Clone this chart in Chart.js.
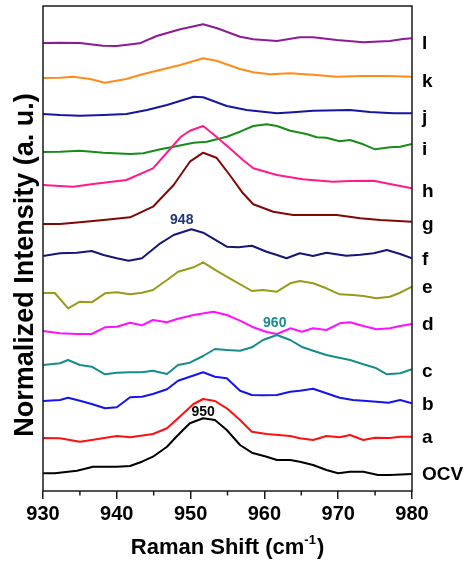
<!DOCTYPE html>
<html>
<head>
<meta charset="utf-8">
<script src="https://cdn.jsdelivr.net/npm/chart.js@4/dist/chart.umd.min.js"></script>
<style>
html,body{margin:0;padding:0;background:#fff;}
#wrap{width:474px;height:562px;position:relative;}
</style>
</head>
<body>
<div id="wrap"><canvas id="c" width="474" height="562"></canvas></div>
<script>
// ---- Data (Raman shift in cm-1, stacked normalized intensity in a.u.) ----
const seriesNames = ['OCV','a','b','c','d','e','f','g','h','i','j','k','l'];
const seriesColors = ['#000000','#ff1010','#1414f0','#168c8c','#ff10ff','#99991a','#161678','#820808','#ff1a8c','#188c18','#1616a0','#ff8c1a','#8e1b96'];
const labelLevels = [12,49,82,115,162,199,227,262,295,337,369,405,443];

const ocvX=[930,931.6,934.6,936.8,940,941.8,943.4,944.9,946.8,948.3,949.9,951.7,953.3,954.9,956.7,958.3,960.3,961.7,963.5,964.8,966.6,968.4,970,971.6,973.4,975.4,977,980];
const ocvY=[18.7,18.7,21.3,25.3,25.3,26,30.3,35.3,45.3,57,68.7,73.7,72,62,47,39.3,35.3,32,32,30.3,27,22,18.7,20.3,20.3,17,17,18];
const aX=[930,932.3,935,936.6,940,941.8,944.9,946.8,948.3,950.4,951.7,953.3,954.9,956.7,958.3,960.3,963.5,964.8,966.6,968.4,970.2,971.6,973.4,975,977,978.4,980];
const aY=[54,53.7,50.3,52,56,54.7,58,63.7,73.7,88,93,91,83.7,72,60.3,58,56,53.7,52,56,54.7,57,52,54.3,54,55.3,55.3];
const bX=[930,932.3,933.4,935,936.6,938.4,940,941.8,943.4,944.9,946.8,948.3,949.9,951.7,953.3,954.9,956.7,958.3,959.8,961.7,963.5,964.8,966.6,968.4,970.2,972,973.4,975.2,976.8,978.4,980];
const bY=[91,92,94.3,91.3,88,83.7,84.7,94.7,95.3,98,102.7,111.3,115.3,119.7,115.3,113.7,101.3,97,96.7,97,100.3,101.3,103.3,98.7,94.3,92,91.3,90.3,89.3,92,88.7];
const cX=[930,932.3,933.4,935,936.6,938.4,940,941.8,943.4,944.9,946.8,948.3,949.9,951.7,953.3,954.9,956.7,958.3,959.8,961.7,963.5,965.2,966.6,968.4,969.8,971.6,973.4,975,976.6,978.4,980];
const cY=[127,128.7,132,127,125.3,117.7,119.3,119.7,119.7,121.3,118,127,129.3,136,143,142,141.3,144.7,152,157,152,144.7,141.3,137,134.7,132,127.7,124.3,117.7,118.7,122.7];
const dX=[930,932.3,934.6,936.6,938.4,940,941.8,943.4,944.9,946.8,948.3,950.4,953.1,954.9,956.7,958.3,960.3,961.7,963.5,965.1,966.6,968.4,970.2,971.6,973.4,975.2,977,978.4,980];
const dY=[161,158.7,158,158,164.7,165.3,169.3,166.7,172,169.7,173.3,177,180.3,177,171.3,165.3,160,158,163.7,160.3,163.7,162,168.7,169.7,166,162.7,163.7,166,168];
const eX=[930,931.6,933.4,935,936.6,938.4,940,941.8,943.4,944.9,946.8,948.3,950.4,951.7,953.5,955.3,958.3,959.8,961.7,963.5,964.8,966.6,968.4,970.2,972,973.4,975.2,977,978.4,980];
const eY=[199,199,183.7,190.3,189.7,198.7,199.7,197.7,199.3,202,212,220.3,224.7,229.7,221.3,213.7,201,202,200.3,208.7,211,208.7,203.7,197.7,197,196,193.7,195.3,199.3,205.3];
const fX=[930,932.3,934.6,936.6,938.2,940,941.6,943.4,945.9,947.7,950.1,951.7,954.9,956.5,958.3,960.3,961.7,963,964.8,966.6,968.4,971.1,973,974.8,976.6,978.4,980];
const fY=[236,238.7,239.3,241,237,233.7,231.3,233.7,248.7,257,262.7,259.3,245.3,244.7,246.3,240.3,237,233.7,238.7,236,239.3,236.3,237.3,238.7,242,238,233.7];
const gX=[930,932.3,935,938.2,941.8,944.9,947.7,949.9,951.7,953.5,955.3,957.1,958.5,961.2,963.9,966.6,969.8,973,975.7,980];
const gY=[268,268,269.7,272,274.7,285.3,307,330.3,339.3,334.3,317,298.7,287.7,280.3,277,277,277,273.7,272,270.3];
const hX=[930,932.3,934.1,936.8,941.3,944.9,947.7,948.6,949.9,951.7,953.5,955.3,957.1,958.5,961.7,965.2,969.3,971.6,974.8,977,980];
const hY=[307,306,305.3,308,312,323.7,347,354.7,361.3,366,355.3,343.7,332,323.7,317,312.7,310.3,311,311.3,308,303.7];
const iX=[930,932.3,935,938.2,941.8,943.6,945.9,947.7,950.4,952.2,954.9,956.7,958.5,960.3,961.7,963.5,965.7,967.1,968.4,970.2,971.6,973.4,975,977,978.4,980];
const iY=[340,340.3,341.3,339.3,338,338.7,342.7,345.3,349.3,350.3,355.3,360.3,366,367.7,366,361.3,358,354.7,354.3,350.7,352,347.7,342.7,344.7,345.3,348];
const jX=[930,932.3,935,938.2,941.3,944.1,946.8,950.4,951.7,954.9,957.6,961.7,963.9,966.6,971.6,974.3,977.5,980];
const jY=[378,377,376.3,377,378,382,387,395.3,394.7,386,382,378.7,379.7,381.3,382,380,378.7,378.7];
const kX=[930,932.3,934.1,936.4,938.4,941.3,943.1,945.4,948.6,951.7,953.5,956.7,958.5,960.8,963.5,966.6,969.8,973,976.6,980];
const kY=[414,414.3,415.3,413,409.3,413,417,421.3,427,433.7,431.3,423,419.7,417.7,418.7,417.3,415.3,416,416,415.3];
const lX=[930,932.3,935,938.1,940,943.1,945.4,948.6,951.7,953.6,956.7,958.5,961.7,964.8,966.6,969.8,973.4,977,978.8,980];
const lY=[449,449.3,449,446.3,446,448.7,456,462.7,467.7,463.7,455.3,452.7,451,454.7,454.7,452,449.7,451,453,453.7];

const xTicks=[930,940,950,960,970,980];
const xMinorTicks=[935,945,955,965,975];
const peakNotes=[{text:'948',x:948.8,y:271.5,color:'#1f3574'},{text:'960',x:961.4,y:169,color:'#1a8c8c'},{text:'950',x:951.7,y:79.5,color:'#000000'}];

const allX=[ocvX,aX,bX,cX,dX,eX,fX,gX,hX,iX,jX,kX,lX];
const allY=[ocvY,aY,bY,cY,dY,eY,fY,gY,hY,iY,jY,kY,lY];

const datasets = seriesNames.map((n,i)=>({
  label:n,
  data:allX[i].map((x,k)=>({x:x,y:allY[i][k]})),
  borderColor:seriesColors[i],
  backgroundColor:seriesColors[i],
  borderWidth:2,
  borderJoinStyle:'round',
  pointRadius:0,
  tension:0,
  fill:false
}));

const FONT='"Liberation Sans", Arial, Helvetica, sans-serif';

const decor = {
  id:'decor',
  afterDraw(chart){
    const ctx=chart.ctx, a=chart.chartArea, xs=chart.scales.x, ys=chart.scales.y;
    ctx.save();
    // frame
    ctx.strokeStyle='#1a1a1a'; ctx.lineWidth=1.5;
    ctx.strokeRect(a.left,a.top,a.right-a.left,a.bottom-a.top);
    // minor ticks
    ctx.lineWidth=1.5;
    xMinorTicks.forEach(v=>{
      const px=xs.getPixelForValue(v);
      ctx.beginPath(); ctx.moveTo(px,a.bottom); ctx.lineTo(px,a.bottom+4.5); ctx.stroke();
    });
    // series labels on the right
    ctx.fillStyle='#000'; ctx.font='bold 19px '+FONT; ctx.textAlign='left'; ctx.textBaseline='alphabetic';
    seriesNames.forEach((n,i)=>{
      ctx.fillText(n, a.right+10, ys.getPixelForValue(labelLevels[i]));
    });
    // peak annotations
    ctx.font='bold 14px '+FONT; ctx.textAlign='center'; ctx.textBaseline='middle';
    peakNotes.forEach(p=>{
      ctx.fillStyle=p.color;
      ctx.fillText(p.text, xs.getPixelForValue(p.x), ys.getPixelForValue(p.y));
    });
    // x title with superscript
    ctx.fillStyle='#000'; ctx.textAlign='left'; ctx.textBaseline='alphabetic';
    const main='Raman Shift (cm', sup='-1', end=')';
    ctx.font='bold 22px '+FONT; const w1=ctx.measureText(main).width, w3=ctx.measureText(end).width;
    ctx.font='bold 13px '+FONT; const w2=ctx.measureText(sup).width;
    const total=w1+w2+w3+1;
    let x0=(a.left+a.right)/2-total/2; const base=554;
    ctx.font='bold 22px '+FONT; ctx.fillText(main,x0,base);
    ctx.font='bold 13px '+FONT; ctx.fillText(sup,x0+w1,base-10);
    ctx.font='bold 22px '+FONT; ctx.fillText(end,x0+w1+w2+1,base);
    // y title
    ctx.translate(33,265); ctx.rotate(-Math.PI/2);
    ctx.font='bold 27px '+FONT; ctx.textAlign='center'; ctx.textBaseline='alphabetic';
    ctx.fillText('Normalized Intensity (a. u.)',0,0);
    ctx.restore();
  }
};

new Chart(document.getElementById('c'),{
  type:'line',
  data:{datasets:datasets},
  options:{
    responsive:false,
    animation:false,
    events:[],
    layout:{padding:{left:0,right:62,top:6,bottom:0}},
    plugins:{legend:{display:false},tooltip:{enabled:false}},
    scales:{
      x:{
        type:'linear', min:930, max:980,
        afterBuildTicks(s){ s.ticks=xTicks.map(v=>({value:v})); },
        afterFit(s){ s.height=71; },
        ticks:{color:'#000',font:{family:FONT,size:20,weight:'bold'},padding:3,maxRotation:0,autoSkip:false},
        grid:{display:true,drawOnChartArea:false,drawTicks:true,tickLength:8,color:'#1a1a1a',lineWidth:1.5},
        border:{display:false}
      },
      y:{
        type:'linear', min:1, max:486,
        afterFit(s){ s.width=43; },
        ticks:{display:false},
        grid:{display:false},
        border:{display:false}
      }
    }
  },
  plugins:[decor]
});
</script>
</body>
</html>
